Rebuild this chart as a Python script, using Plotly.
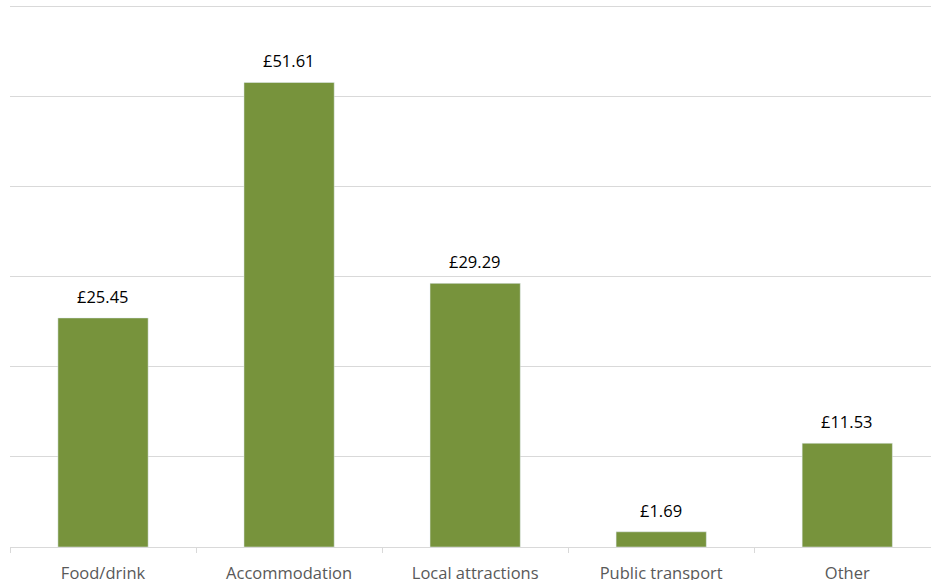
import plotly.graph_objects as go

categories = ["Food/drink", "Accommodation", "Local attractions", "Public transport", "Other"]
values = [25.45, 51.61, 29.29, 1.69, 11.53]
labels = ["£25.45", "£51.61", "£29.29", "£1.69", "£11.53"]

FONT = "Open Sans, sans-serif"

fig = go.Figure()
fig.add_trace(go.Bar(
    x=categories, y=values, marker_color="#77933C", width=0.485,
    hoverinfo="skip",
))
for c, v, t in zip(categories, values, labels):
    fig.add_annotation(x=c, y=v, text=t, showarrow=False, yanchor="bottom", yshift=8,
                       font=dict(family=FONT, size=16.5, color="#000000"))

fig.update_layout(
    width=931, height=580,
    margin=dict(l=10, r=0, t=3, b=33, autoexpand=False),
    plot_bgcolor="white", paper_bgcolor="white",
    showlegend=False,
    font=dict(family=FONT, size=16, color="#595959"),
)
fig.update_xaxes(
    range=[-0.5, 4.45], showgrid=False, automargin=False,
    showline=True, linecolor="#d9d9d9", linewidth=1,
    ticks="outside", ticklen=5, tickcolor="#d9d9d9", tickson="boundaries",
    ticklabelstandoff=11,
    tickfont=dict(family=FONT, size=16.5, color="#595959"),
)
fig.update_yaxes(
    range=[0, 60.44], tick0=0, dtick=10, showgrid=True, gridcolor="#d9d9d9", gridwidth=1,
    showticklabels=False, zeroline=False, showline=False,
)
fig.write_html("out.html", config={"displayModeBar": False},
               post_script="document.body.style.margin='0';document.body.style.overflow='hidden';")
